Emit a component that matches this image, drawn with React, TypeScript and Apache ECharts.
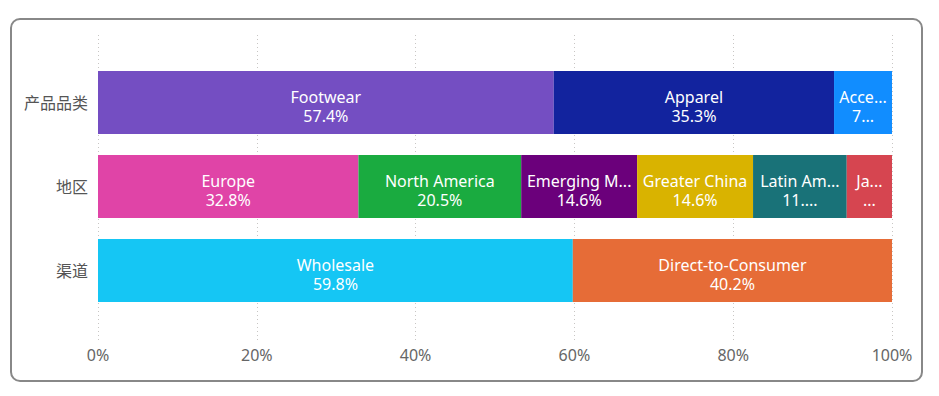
import React, { useEffect, useRef } from "react";
import * as echarts from "echarts";

const categories = ["产品品类", "地区", "渠道"];

const productNames = ["Footwear", "Apparel", "Accessories"];
const productValues = [57.4, 35.3, 7.3];

const regionNames = ["Europe", "North America", "Emerging Markets", "Greater China", "Latin America", "Japan"];
const regionValues = [32.8, 20.5, 14.6, 14.6, 11.8, 5.7];

const channelNames = ["Wholesale", "Direct-to-Consumer"];
const channelValues = [59.8, 40.2];

const xTicks = [0, 20, 40, 60, 80, 100];

const productColors = ["#744EC2", "#12239E", "#118DFF"];
const regionColors = ["#E044A7", "#1AAB40", "#6B007B", "#D9B300", "#197278", "#D64550"];
const channelColors = ["#15C6F4", "#E66C37"];

const FONT = "'Noto Sans', 'Noto Sans CJK SC', sans-serif";
const LABEL_FONT = "16px 'Noto Sans'";

function trunc(text: string, width: number): string {
  const f: any = (echarts as any).format;
  if (f && typeof f.truncateText === "function") {
    return f.truncateText(text, Math.max(width, 0), LABEL_FONT, "...", {});
  }
  return text;
}

export default function App() {
  const ref = useRef<HTMLDivElement>(null);

  useEffect(() => {
    if (!ref.current) return;
    const chart = echarts.init(ref.current, undefined, { renderer: "svg" });
    const gridLeft = 86;
    const gridRight = 29;
    const plotW = chart.getWidth() - gridLeft - gridRight;

    const rows = [
      { names: productNames, values: productValues, colors: productColors },
      { names: regionNames, values: regionValues, colors: regionColors },
      { names: channelNames, values: channelValues, colors: channelColors },
    ];

    const series: any[] = [];
    rows.forEach((row, r) => {
      row.names.forEach((name, i) => {
        const v = row.values[i];
        const barPx = (v / 100) * plotW;
        series.push({
          type: "bar",
          name,
          stack: "total",
          xAxisIndex: 1,
          yAxisIndex: 1,
          barCategoryGap: "25%",
          itemStyle: { color: row.colors[i] },
          label: {
            show: true,
            position: "inside",
            offset: [0, 4],
            color: "#fff",
            fontFamily: FONT,
            fontSize: 16,
            lineHeight: 19,
            align: "center",
            formatter: (p: any) =>
              trunc(p.seriesName, barPx - 8) + "\n" + trunc(Number(p.value).toFixed(1) + "%", barPx * 0.45),
          },
          data: categories.map((_, k) => (k === r ? v : "-")),
        });
      });
    });

    series.push({
      type: "bar",
      xAxisIndex: 0,
      yAxisIndex: 0,
      data: [],
      silent: true,
    });

    chart.setOption({
      animation: false,
      grid: [
        { left: gridLeft, right: gridRight, top: 15, bottom: 40 },
        { left: gridLeft, right: gridRight, top: 40.5, height: 252 },
      ],
      xAxis: [
        {
          type: "value",
          gridIndex: 0,
          min: xTicks[0],
          max: xTicks[xTicks.length - 1],
          interval: xTicks[1] - xTicks[0],
          axisLine: { show: false },
          axisTick: { show: false },
          axisLabel: {
            formatter: "{value}%",
            color: "#666",
            fontFamily: FONT,
            fontSize: 16,
            margin: 7,
          },
          splitLine: { show: true, lineStyle: { color: "#C8C6C4", type: [1, 3], width: 1 } },
        },
        {
          type: "value",
          gridIndex: 1,
          min: 0,
          max: 100,
          show: false,
        },
      ],
      yAxis: [
        { type: "category", gridIndex: 0, data: categories, show: false },
        {
          type: "category",
          gridIndex: 1,
          data: categories,
          inverse: true,
          axisLine: { show: false },
          axisTick: { show: false },
          splitLine: { show: false },
          axisLabel: {
            color: "#555",
            fontFamily: FONT,
            fontSize: 16,
            margin: 10,
          },
        },
      ],
      series,
    });

    return () => chart.dispose();
  }, []);

  return (
    <div style={{ paddingTop: 10, paddingLeft: 2 }}>
      <div
        style={{
          boxSizing: "border-box",
          width: 913,
          height: 364,
          border: "2px solid #888",
          borderRadius: 10,
        }}
      >
        <div ref={ref} style={{ width: 909, height: 360 }} />
      </div>
    </div>
  );
}
